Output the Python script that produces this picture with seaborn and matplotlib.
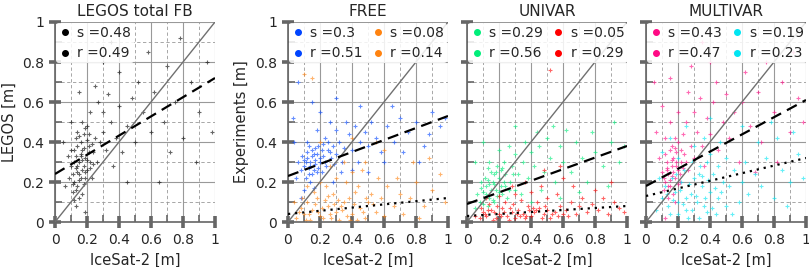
import numpy as np
import pandas as pd
import matplotlib
matplotlib.use('Agg')
import matplotlib.pyplot as plt
from matplotlib.lines import Line2D
from matplotlib.ticker import MultipleLocator
import seaborn as sns

# --- data (IceSat-2 x, model y) ---
legos_x = [0.12, 0.14, 0.15, 0.16, 0.18, 0.13, 0.17, 0.19, 0.20, 0.11, 0.14, 0.16, 0.21, 0.22, 0.10, 0.12, 0.18, 0.15, 0.13, 0.09,
           0.24, 0.25, 0.20, 0.23, 0.08, 0.17, 0.26, 0.28, 0.30, 0.14, 0.32, 0.35, 0.30, 0.38, 0.40, 0.27, 0.22, 0.45, 0.42, 0.36,
           0.33, 0.48, 0.50, 0.05, 0.06, 0.19, 0.10, 0.25, 0.55, 0.52, 0.60, 0.62, 0.68, 0.70, 0.75, 0.80, 0.85, 0.90, 0.95, 0.58,
           0.40, 0.30, 0.15, 0.72, 0.88, 0.98, 0.65, 0.45, 0.35, 0.78]
legos_y = [0.20, 0.25, 0.30, 0.22, 0.28, 0.33, 0.36, 0.32, 0.26, 0.15, 0.18, 0.40, 0.38, 0.30, 0.28, 0.36, 0.44, 0.12, 0.08, 0.22,
           0.35, 0.42, 0.48, 0.22, 0.33, 0.50, 0.30, 0.40, 0.45, 0.45, 0.36, 0.50, 0.55, 0.42, 0.58, 0.60, 0.55, 0.48, 0.35, 0.28,
           0.64, 0.62, 0.40, 0.40, 0.18, 0.05, 0.50, 0.68, 0.55, 0.70, 0.45, 0.65, 0.50, 0.78, 0.60, 0.42, 0.70, 0.55, 0.80, 0.85,
           0.75, 0.80, 0.65, 0.35, 0.30, 0.45, 0.20, 0.20, 0.90, 0.92]
legos_core_x = [0.11, 0.13, 0.15, 0.17, 0.19, 0.21, 0.12, 0.14, 0.16, 0.18, 0.20, 0.22, 0.10, 0.13, 0.15, 0.17, 0.19, 0.23, 0.12, 0.16,
                0.14, 0.18, 0.20, 0.11, 0.15, 0.17, 0.21, 0.13, 0.19, 0.24]
legos_core_y = [0.24, 0.27, 0.21, 0.31, 0.25, 0.35, 0.30, 0.38, 0.33, 0.19, 0.41, 0.27, 0.36, 0.16, 0.43, 0.26, 0.22, 0.39, 0.11, 0.34,
                0.28, 0.37, 0.31, 0.19, 0.24, 0.14, 0.44, 0.42, 0.47, 0.29]

free_x = [0.10, 0.12, 0.14, 0.16, 0.18, 0.13, 0.20, 0.15, 0.11, 0.17, 0.22, 0.24, 0.09, 0.19, 0.25, 0.27, 0.08, 0.14, 0.21, 0.28,
          0.30, 0.32, 0.35, 0.12, 0.06, 0.16, 0.23, 0.34, 0.10, 0.05, 0.38, 0.40, 0.42, 0.45, 0.36, 0.48, 0.50, 0.30, 0.26, 0.18,
          0.44, 0.52, 0.55, 0.08, 0.04, 0.20, 0.33, 0.40, 0.58, 0.28, 0.62, 0.66, 0.70, 0.75, 0.80, 0.85, 0.90, 0.95, 0.60, 0.72,
          0.88, 0.98, 0.30, 0.15, 0.45, 0.06, 0.65, 0.82, 0.50, 0.03]
free_y = [0.28, 0.32, 0.30, 0.26, 0.34, 0.24, 0.30, 0.36, 0.22, 0.29, 0.33, 0.28, 0.33, 0.38, 0.36, 0.32, 0.26, 0.20, 0.25, 0.38,
          0.34, 0.40, 0.37, 0.40, 0.30, 0.17, 0.42, 0.30, 0.16, 0.22, 0.44, 0.36, 0.48, 0.40, 0.50, 0.45, 0.38, 0.46, 0.50, 0.46,
          0.30, 0.50, 0.42, 0.12, 0.40, 0.55, 0.25, 0.26, 0.35, 0.20, 0.48, 0.40, 0.52, 0.45, 0.50, 0.38, 0.55, 0.48, 0.30, 0.35,
          0.44, 0.52, 0.62, 0.60, 0.58, 0.70, 0.58, 0.30, 0.25, 0.52]
free_core_x = [0.11, 0.13, 0.15, 0.17, 0.19, 0.21, 0.12, 0.14, 0.16, 0.18, 0.20, 0.23, 0.10, 0.26, 0.29, 0.15, 0.17, 0.13, 0.22, 0.25]
free_core_y = [0.30, 0.27, 0.33, 0.31, 0.27, 0.36, 0.35, 0.28, 0.34, 0.25, 0.32, 0.30, 0.31, 0.35, 0.29, 0.24, 0.37, 0.38, 0.39, 0.40]

free_dep_x = [0.05, 0.10, 0.15, 0.20, 0.25, 0.30, 0.35, 0.40, 0.45, 0.12, 0.18, 0.22, 0.28, 0.32, 0.38, 0.42, 0.48, 0.50, 0.55, 0.08,
              0.14, 0.26, 0.34, 0.16, 0.24, 0.36, 0.44, 0.30, 0.20, 0.52, 0.58, 0.60, 0.62, 0.66, 0.70, 0.40, 0.46, 0.56, 0.26, 0.12,
              0.04, 0.68, 0.72, 0.35, 0.48, 0.76, 0.80, 0.85, 0.90, 0.95, 0.78, 0.88, 0.60, 0.20, 0.15, 0.10, 0.55, 0.98, 0.40, 0.82]
free_dep_y = [0.02, 0.04, 0.06, 0.03, 0.08, 0.05, 0.10, 0.04, 0.07, 0.10, 0.12, 0.02, 0.14, 0.01, 0.12, 0.15, 0.02, 0.10, 0.05, 0.07,
              0.01, 0.04, 0.06, 0.15, 0.18, 0.20, 0.18, 0.22, 0.20, 0.14, 0.12, 0.03, 0.18, 0.08, 0.14, 0.25, 0.26, 0.22, 0.28, 0.18,
              0.10, 0.22, 0.04, 0.30, 0.30, 0.12, 0.20, 0.08, 0.16, 0.24, 0.30, 0.32, 0.36, 0.40, 0.72, 0.74, 0.40, 0.10, 0.42, 0.02]
free_dep_core_x = [0.07, 0.11, 0.17, 0.21, 0.27, 0.31, 0.37, 0.41, 0.47, 0.13, 0.23, 0.33, 0.43, 0.53, 0.19, 0.29, 0.39, 0.09, 0.49, 0.25]
free_dep_core_y = [0.05, 0.01, 0.09, 0.07, 0.02, 0.11, 0.03, 0.09, 0.05, 0.04, 0.11, 0.08, 0.01, 0.09, 0.05, 0.09, 0.01, 0.12, 0.12, 0.13]

uni_x = [0.08, 0.10, 0.12, 0.14, 0.16, 0.18, 0.20, 0.22, 0.11, 0.13, 0.15, 0.17, 0.19, 0.21, 0.24, 0.06, 0.09, 0.25, 0.27, 0.28,
         0.23, 0.05, 0.30, 0.32, 0.14, 0.35, 0.38, 0.40, 0.42, 0.45, 0.48, 0.50, 0.52, 0.55, 0.36, 0.30, 0.44, 0.58, 0.60, 0.26,
         0.34, 0.46, 0.20, 0.54, 0.40, 0.65, 0.68, 0.72, 0.75, 0.80, 0.85, 0.90, 0.95, 0.62, 0.70, 0.88, 0.98, 0.10, 0.05, 0.30,
         0.78, 0.92, 0.58]
uni_y = [0.10, 0.15, 0.18, 0.12, 0.20, 0.16, 0.22, 0.14, 0.22, 0.08, 0.25, 0.10, 0.28, 0.18, 0.24, 0.14, 0.20, 0.12, 0.20, 0.28,
         0.30, 0.07, 0.16, 0.24, 0.30, 0.30, 0.22, 0.35, 0.28, 0.38, 0.25, 0.42, 0.32, 0.20, 0.40, 0.34, 0.45, 0.38, 0.30, 0.38,
         0.14, 0.16, 0.36, 0.48, 0.10, 0.25, 0.40, 0.32, 0.20, 0.35, 0.28, 0.40, 0.30, 0.46, 0.15, 0.18, 0.38, 0.40, 0.30, 0.48,
         0.45, 0.50, 0.12]
uni_core_x = [0.09, 0.11, 0.13, 0.15, 0.17, 0.19, 0.21, 0.23, 0.12, 0.14, 0.16, 0.18, 0.20, 0.22, 0.10, 0.26, 0.29, 0.24, 0.17, 0.13]
uni_core_y = [0.17, 0.12, 0.21, 0.16, 0.24, 0.13, 0.26, 0.20, 0.14, 0.19, 0.11, 0.25, 0.15, 0.27, 0.09, 0.16, 0.24, 0.18, 0.19, 0.27]

uni_dep_x = [0.05, 0.08, 0.10, 0.12, 0.15, 0.18, 0.20, 0.22, 0.25, 0.28, 0.30, 0.32, 0.35, 0.38, 0.40, 0.42, 0.45, 0.48, 0.50, 0.52,
             0.55, 0.58, 0.60, 0.14, 0.24, 0.34, 0.44, 0.16, 0.26, 0.36, 0.62, 0.65, 0.68, 0.70, 0.72, 0.75, 0.20, 0.30, 0.40, 0.50,
             0.56, 0.46, 0.36, 0.28, 0.12, 0.78, 0.82, 0.85, 0.88, 0.92, 0.95, 0.80, 0.60, 0.48, 0.90, 0.66, 0.58, 0.52, 0.98]
uni_dep_y = [0.03, 0.02, 0.05, 0.03, 0.06, 0.02, 0.04, 0.07, 0.03, 0.05, 0.02, 0.06, 0.04, 0.08, 0.03, 0.05, 0.07, 0.04, 0.06, 0.02,
             0.05, 0.08, 0.04, 0.09, 0.10, 0.11, 0.10, 0.01, 0.01, 0.02, 0.06, 0.10, 0.04, 0.08, 0.12, 0.05, 0.13, 0.14, 0.15, 0.12,
             0.14, 0.18, 0.20, 0.18, 0.12, 0.09, 0.06, 0.12, 0.04, 0.10, 0.07, 0.16, 0.22, 0.26, 0.20, 0.18, 0.28, 0.76, 0.05]
uni_dep_core_x = [0.11, 0.17, 0.21, 0.27, 0.31, 0.37, 0.41, 0.47, 0.53, 0.57, 0.13, 0.23, 0.33, 0.43, 0.63, 0.19, 0.29, 0.39, 0.49, 0.09]
uni_dep_core_y = [0.04, 0.05, 0.03, 0.07, 0.04, 0.03, 0.07, 0.02, 0.04, 0.03, 0.06, 0.05, 0.03, 0.06, 0.03, 0.08, 0.09, 0.06, 0.08, 0.07]

multi_x = [0.12, 0.14, 0.16, 0.18, 0.20, 0.15, 0.17, 0.13, 0.19, 0.22, 0.10, 0.21, 0.24, 0.16, 0.11, 0.14, 0.20, 0.26, 0.08, 0.23,
           0.18, 0.28, 0.12, 0.25, 0.30, 0.32, 0.35, 0.38, 0.40, 0.30, 0.42, 0.45, 0.48, 0.34, 0.20, 0.15, 0.50, 0.52, 0.36, 0.26,
           0.55, 0.44, 0.10, 0.06, 0.58, 0.60, 0.62, 0.65, 0.70, 0.72, 0.75, 0.80, 0.85, 0.90, 0.95, 0.40, 0.28, 0.15, 0.55, 0.82,
           0.92, 0.05, 0.68, 0.98, 0.35, 0.12]
multi_y = [0.20, 0.24, 0.28, 0.22, 0.26, 0.18, 0.32, 0.30, 0.35, 0.30, 0.25, 0.20, 0.34, 0.38, 0.16, 0.12, 0.40, 0.26, 0.32, 0.44,
           0.10, 0.38, 0.42, 0.50, 0.32, 0.45, 0.38, 0.52, 0.44, 0.55, 0.60, 0.36, 0.50, 0.62, 0.55, 0.50, 0.64, 0.42, 0.28, 0.65,
           0.55, 0.70, 0.58, 0.45, 0.30, 0.60, 0.75, 0.48, 0.65, 0.40, 0.80, 0.55, 0.70, 0.45, 0.62, 0.80, 0.78, 0.72, 0.85, 0.30,
           0.85, 0.70, 0.25, 0.50, 0.90, 0.02]
multi_core_x = [0.11, 0.13, 0.15, 0.17, 0.19, 0.21, 0.12, 0.14, 0.16, 0.18, 0.20, 0.23, 0.15, 0.17, 0.19, 0.13, 0.22, 0.25, 0.16, 0.18]
multi_core_y = [0.22, 0.27, 0.21, 0.25, 0.30, 0.24, 0.34, 0.18, 0.31, 0.37, 0.19, 0.27, 0.36, 0.14, 0.28, 0.26, 0.36, 0.30, 0.23, 0.42]

multi_dep_x = [0.10, 0.14, 0.18, 0.20, 0.22, 0.25, 0.28, 0.30, 0.32, 0.35, 0.38, 0.40, 0.42, 0.45, 0.48, 0.16, 0.24, 0.12, 0.26, 0.34,
               0.36, 0.44, 0.50, 0.20, 0.29, 0.52, 0.55, 0.58, 0.60, 0.50, 0.40, 0.30, 0.20, 0.08, 0.06, 0.46, 0.62, 0.64, 0.36, 0.54,
               0.68, 0.72, 0.75, 0.80, 0.85, 0.90, 0.95, 0.70, 0.82, 0.88, 0.25, 0.15, 0.60, 0.98, 0.40, 0.10, 0.78, 0.92]
multi_dep_y = [0.12, 0.08, 0.15, 0.10, 0.20, 0.06, 0.14, 0.22, 0.10, 0.18, 0.05, 0.15, 0.24, 0.12, 0.20, 0.22, 0.26, 0.18, 0.02, 0.28,
               0.08, 0.04, 0.08, 0.04, 0.30, 0.18, 0.26, 0.10, 0.20, 0.32, 0.34, 0.38, 0.32, 0.22, 0.06, 0.40, 0.30, 0.14, 0.42, 0.04,
               0.24, 0.18, 0.32, 0.12, 0.26, 0.20, 0.34, 0.40, 0.42, 0.08, 0.48, 0.42, 0.48, 0.22, 0.52, 0.35, 0.50, 0.45]
multi_dep_core_x = [0.13, 0.17, 0.21, 0.23, 0.27, 0.31, 0.33, 0.37, 0.39, 0.41, 0.43, 0.47, 0.19, 0.25, 0.29, 0.35, 0.45, 0.15, 0.33, 0.38]
multi_dep_core_y = [0.14, 0.11, 0.16, 0.09, 0.19, 0.13, 0.24, 0.12, 0.21, 0.07, 0.17, 0.15, 0.24, 0.12, 0.06, 0.23, 0.28, 0.04, 0.02, 0.30]

# slope (s), correlation (r) and fit intercept per series
titles = ['LEGOS total FB', 'FREE', 'UNIVAR', 'MULTIVAR']
slopes = [0.48, 0.3, 0.08, 0.29, 0.05, 0.43, 0.19]
corrs = [0.49, 0.51, 0.14, 0.56, 0.29, 0.47, 0.23]
intercepts = [0.24, 0.23, 0.04, 0.09, 0.03, 0.18, 0.13]
colors = ['black', '#0044ff', '#ff8310', '#00ee7a', '#ff0000', '#ff0a85', '#00e5f2']

series_x = [legos_x + legos_core_x, free_x + free_core_x, free_dep_x + free_dep_core_x, uni_x + uni_core_x,
            uni_dep_x + uni_dep_core_x, multi_x + multi_core_x, multi_dep_x + multi_dep_core_x]
series_y = [legos_y + legos_core_y, free_y + free_core_y, free_dep_y + free_dep_core_y, uni_y + uni_core_y,
            uni_dep_y + uni_dep_core_y, multi_y + multi_core_y, multi_dep_y + multi_dep_core_y]
panel_series = [[0], [1, 2], [3, 4], [5, 6]]


def style_axis(ax):
    ax.set_xlim(0, 1)
    ax.set_ylim(0, 1)
    ax.xaxis.set_major_locator(MultipleLocator(0.2))
    ax.yaxis.set_major_locator(MultipleLocator(0.2))
    ax.xaxis.set_minor_locator(MultipleLocator(0.1))
    ax.yaxis.set_minor_locator(MultipleLocator(0.1))
    ax.xaxis.set_major_formatter(plt.FuncFormatter(lambda v, p: f'{v:g}'))
    ax.yaxis.set_major_formatter(plt.FuncFormatter(lambda v, p: f'{v:g}'))
    ax.grid(which='major', color='#999999', lw=0.8, ls='-')
    ax.grid(which='minor', color='#999999', lw=0.6, ls=(0, (4, 3)))
    # seaborn's white style switches ticks off, so turn them back on
    ax.tick_params(which='both', bottom=True, left=True)
    ax.tick_params(which='major', direction='inout', length=9, width=2.6, color='#666666', labelsize=10)
    ax.tick_params(which='minor', direction='in', length=5, width=1.2, color='#666666')
    for side in ['top', 'right']:
        ax.spines[side].set_visible(False)
    for side in ['left', 'bottom']:
        ax.spines[side].set_color('#666666')
        ax.spines[side].set_linewidth(1.2)
    ax.set_axisbelow(True)


def main():
    sns.set_style('white')
    plt.rcParams['font.family'] = ['DejaVu Sans']

    fig = plt.figure(figsize=(8.09, 2.67), dpi=100)
    lefts = [55, 288, 467, 646]
    axes = [fig.add_axes([l / 809, 45 / 267, 160 / 809, 200 / 267]) for l in lefts]

    line_x = np.array([0.0, 1.0])
    for i, ax in enumerate(axes):
        style_axis(ax)
        handles = []
        for k, idx in enumerate(panel_series[i]):
            df = pd.DataFrame({'x': series_x[idx], 'y': series_y[idx]})
            sns.scatterplot(data=df, x='x', y='y', ax=ax, marker='+', s=12, color=colors[idx],
                            alpha=0.6, linewidth=0.8, legend=False, zorder=2)
            fit = pd.DataFrame({'x': line_x, 'y': intercepts[idx] + slopes[idx] * line_x})
            sns.lineplot(data=fit, x='x', y='y', ax=ax, color='black', lw=1.6,
                         ls=(0, (5, 3)) if k == 0 else (0, (1, 2.2)), zorder=4)
            handles.append((idx, 's'))
            handles.append((idx, 'r'))
        ax.plot([0, 1], [0, 1], color='#707070', lw=1.0, zorder=3)

        leg_handles = []
        leg_labels = []
        for idx, kind in handles:
            leg_handles.append(Line2D([], [], ls='', marker='o', markersize=4, color=colors[idx]))
            val = slopes[idx] if kind == 's' else corrs[idx]
            leg_labels.append(f'{kind} ={val:g}')
        leg = ax.legend(leg_handles, leg_labels, loc='upper left', ncol=len(panel_series[i]), fontsize=10,
                        frameon=True, framealpha=0.85, edgecolor='none', handlelength=0.8, handletextpad=0.5,
                        columnspacing=0.7, borderpad=0.2, labelspacing=0.45, borderaxespad=0.1)
        leg.set_zorder(5)

        ax.set_title(titles[i], fontsize=11, pad=4)
        ax.set_xlabel('IceSat-2 [m]', fontsize=10.5)
        ax.set_ylabel('')
        if i == 0:
            ax.set_ylabel('LEGOS [m]', fontsize=10.5)
        elif i == 1:
            ax.set_ylabel('Experiments [m]', fontsize=10.5)
        else:
            ax.tick_params(labelleft=False)

    fig.savefig('out.png', dpi=100)
    plt.close(fig)


if __name__ == '__main__':
    main()
